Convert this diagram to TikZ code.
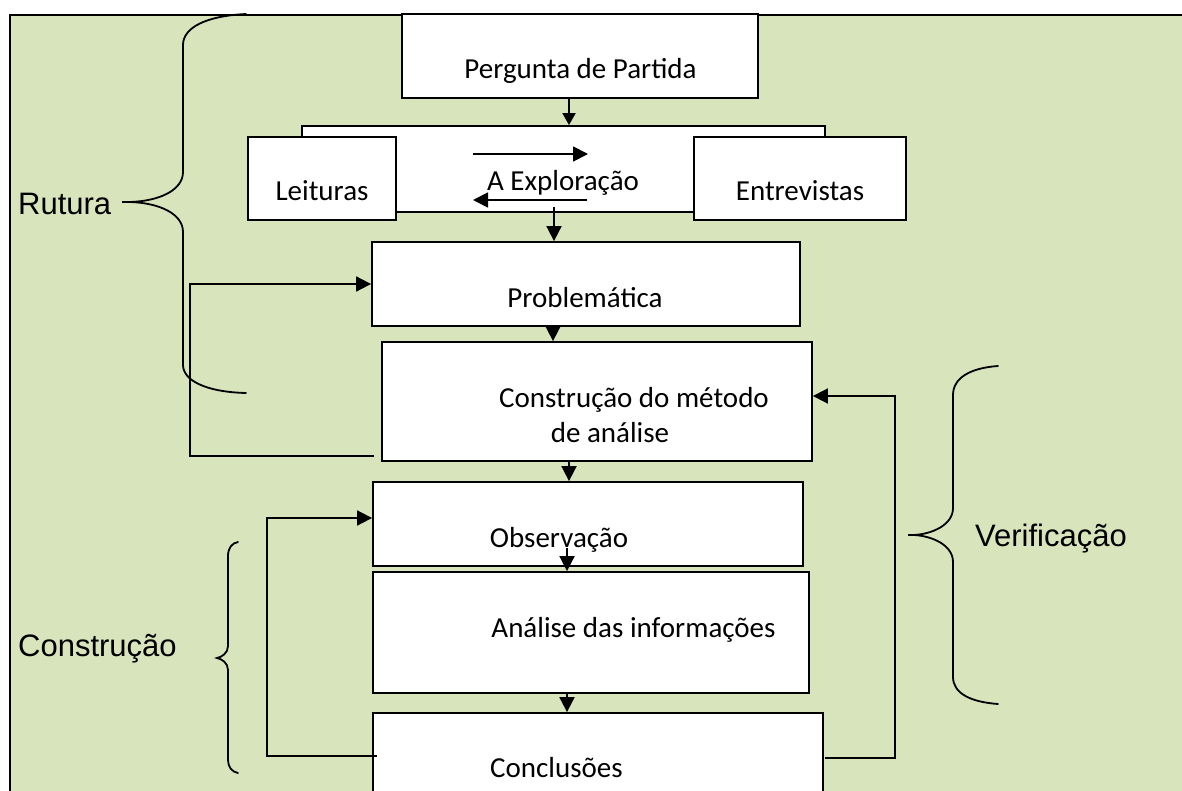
\documentclass[tikz,border=0pt]{standalone}
\usepackage{fontspec}
\setmainfont{Carlito}
\newfontfamily\arialf{Liberation Sans}
\usetikzlibrary{arrows.meta}
\definecolor{bggreen}{RGB}{216,228,188}
\begin{document}
\begin{tikzpicture}[x=1pt,y=-1pt,
  box/.style 2 args={draw=black, fill=white, line width=1.8pt, inner sep=0pt, minimum width=#1, minimum height=#2},
  txt/.style={font=\fontsize{29}{34}\selectfont, inner sep=0pt, anchor=base},
  lbl/.style={font=\arialf\fontsize{31}{36}\selectfont, inner sep=0pt, anchor=base west},
  arr/.style={line width=1.8pt, -{Triangle[length=15pt,width=15pt]}},
  link/.style={line width=1.8pt},
  brace/.style={line width=1.8pt, line cap=round}]
\useasboundingbox (0,0) rectangle (1182,791);
\clip (0,0) rectangle (1182,791);
% background and frame
\fill[bggreen] (10,15) rectangle (1182,791);
\draw[line width=2.6pt] (1182,15) -- (10,15) -- (10,791);

% boxes
\node[box={356pt}{84pt}] (perg) at (580,56) {};
\node[box={523pt}{86pt}] (explo) at (563.5,169) {};
\node[box={148pt}{83pt}] (leit) at (322,178.5) {};
\node[box={212pt}{83pt}] (entr) at (800,178.5) {};
\node[box={428pt}{84pt}] (prob) at (586,284) {};
\node[box={430pt}{119pt}] (cons) at (597,401.5) {};
\node[box={430pt}{84pt}] (obs) at (588,524) {};
\node[box={436pt}{121pt}] (anal) at (591,632.5) {};
\node[box={450pt}{87pt}] (concl) at (598,756.5) {};

% box texts
\node[txt] (tperg) at (580.5,79) {Pergunta de Partida};
\node[txt] (texplo) at (563,191) {A Exploração};
\node[txt] (tleit) at (322,201) {Leituras};
\node[txt] (tentr) at (800,201) {Entrevistas};
\node[txt] (tprob) at (585,307) {Problemática};
\node[txt] (tconsA) at (634,407) {Construção do método};
\node[txt] (tconsB) at (610,442) {de análise};
\node[txt] (tobs) at (559,547) {Observação};
\node[txt] (tanal) at (633.5,637) {Análise das informações};
\node[txt] (tconcl) at (556.5,777) {Conclusões};

% main flow arrows
\draw[line width=1.8pt, -{Triangle[length=12pt,width=13pt]}] (569,0 |- perg.south) -- (569,0 |- explo.north);
\coordinate (er1) at (473,154);
\coordinate (er2) at (588,154);
\coordinate (el1) at (587,200);
\coordinate (el2) at (473,200);
\draw[arr] (er1) -- (er2);
\draw[arr] (el1) -- (el2);
\coordinate (ed) at (554,207);
\draw[arr] (ed) -- (ed |- prob.north);
\draw[arr] (553,0 |- prob.south) -- (553,0 |- cons.north);
\draw[arr] (569,0 |- cons.south) -- (569,0 |- obs.north);
\coordinate (od) at (567,548);
\draw[arr] (od) -- (od |- anal.north);
\draw[arr] (567,0 |- anal.south) -- (567,0 |- concl.north);

% feedback loops
\coordinate (r1) at (374,456);
\draw[arr] (r1) -- (190,456) -- (190,284) -- (prob.west |- 0,284);
\coordinate (c1) at (377,756);
\draw[arr] (c1) -- (267,756) -- (267,518) -- (obs.west |- 0,518);
\coordinate (v1) at (825,758);
\draw[arr] (v1) -- (895,758) -- (895,396) -- (cons.east |- 0,396);

% braces
\draw[brace] (246,14) .. controls (205,16) and (183,28) .. (183,45) -- (183,172)
  .. controls (183,190) and (160,201) .. (130,202) -- (122,202) -- (130,202)
  .. controls (160,203) and (183,214) .. (183,232) -- (183,365)
  .. controls (183,380) and (205,392) .. (246,393);
\draw[brace] (998,366) .. controls (970,368) and (953,378) .. (953,395) -- (953,508)
  .. controls (953,525) and (932,534) .. (914,535) -- (908,535) -- (914,535)
  .. controls (932,536) and (953,545) .. (953,562) -- (953,677)
  .. controls (953,693) and (970,702) .. (998,704);
\draw[brace] (238,542) .. controls (232,543) and (228,548) .. (228,556) -- (228,646)
  .. controls (228,653) and (222,657) .. (217,658)
  .. controls (222,659) and (228,663) .. (228,670) -- (228,760)
  .. controls (228,767) and (232,772) .. (238,773);

% side labels
\node[lbl] (lrut) at (18,215) {Rutura};
\node[lbl] (lver) at (975,546) {Verificação};
\node[lbl] (lcon) at (18,656) {Construção};
\end{tikzpicture}
\end{document}
